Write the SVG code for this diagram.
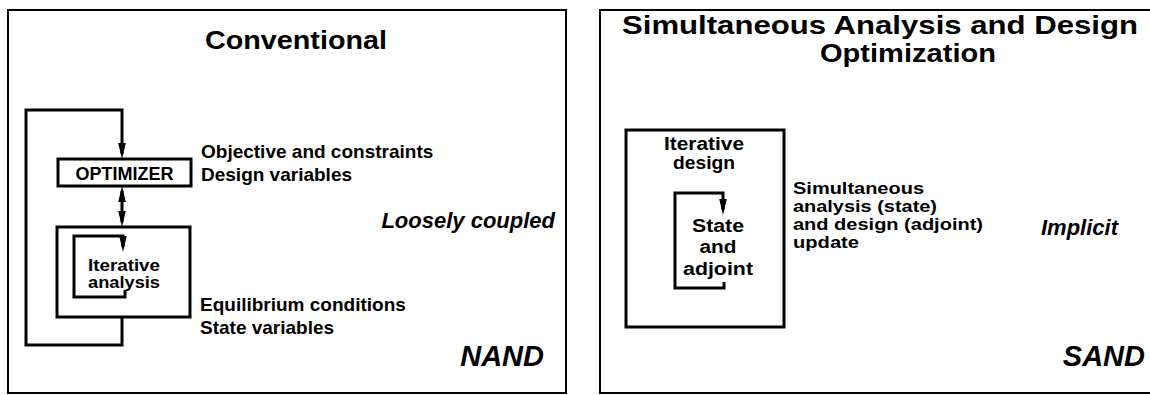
<svg xmlns="http://www.w3.org/2000/svg" width="1150" height="395" viewBox="0 0 1150 395">
<style>
.b{fill:none;stroke:#000;stroke-width:3}
.p{fill:none;stroke:#000;stroke-width:2}
text{font-family:"Liberation Sans",Arial,Helvetica,sans-serif;font-weight:bold;fill:#000}
.t{font-size:26px;text-anchor:middle}
.t2{font-size:25px;text-anchor:middle}
.l{font-size:19px}
.s{font-size:17px}
.n{font-size:18px}
.m{text-anchor:middle}
.e{text-anchor:end}
.it{font-style:italic}
.i22{font-size:22px}
.i29{font-size:29px}
</style>
<defs>
<marker id="ah" markerUnits="userSpaceOnUse" markerWidth="16" markerHeight="10" viewBox="0 0 16 10" refX="11" refY="5" orient="auto-start-reverse">
<path d="M0,1.2 L16,5 L0,8.8 z" fill="#000"/>
</marker>
</defs>
<rect width="1150" height="395" fill="#fff"/>

<g id="panel-conventional">
<rect class="p" x="8" y="10" width="558" height="383"/>
<text class="t" x="296" y="49" textLength="182" lengthAdjust="spacingAndGlyphs">Conventional</text>
<text class="l" x="201" y="158">Objective and constraints</text>
<text class="l" x="201" y="181">Design variables</text>
<text class="it e i22" x="555" y="228">Loosely coupled</text>
<text class="l" x="200" y="311">Equilibrium conditions</text>
<text class="l" x="200" y="334">State variables</text>
<text class="it e i29" x="544" y="366">NAND</text>
</g>

<g id="optimizer">
<rect class="b" x="58" y="159" width="133" height="27"/>
<text class="n m" x="124.5" y="180">OPTIMIZER</text>
</g>

<g id="analysis">
<rect class="b" x="57" y="227" width="133" height="90"/>
<text class="s m" x="124" y="271" textLength="72" lengthAdjust="spacingAndGlyphs">Iterative</text>
<text class="s m" x="124" y="288" textLength="72" lengthAdjust="spacingAndGlyphs">analysis</text>
</g>

<g id="panel-sand">
<rect class="p" x="600" y="10" width="560" height="383"/>
<text class="t2" x="880" y="34" textLength="516" lengthAdjust="spacingAndGlyphs">Simultaneous Analysis and Design</text>
<text class="t2" x="908" y="62" textLength="176" lengthAdjust="spacingAndGlyphs">Optimization</text>
<text class="s" x="793" y="194" textLength="131" lengthAdjust="spacingAndGlyphs">Simultaneous</text>
<text class="s" x="793" y="212" textLength="144" lengthAdjust="spacingAndGlyphs">analysis (state)</text>
<text class="s" x="793" y="230" textLength="190" lengthAdjust="spacingAndGlyphs">and design (adjoint)</text>
<text class="s" x="793" y="248" textLength="66" lengthAdjust="spacingAndGlyphs">update</text>
<text class="it e i22" x="1118" y="235">Implicit</text>
<text class="it e i29" x="1145" y="366">SAND</text>
</g>

<g id="iterative-design">
<rect class="b" x="626" y="130" width="158" height="197"/>
<text class="n m" x="704" y="150" textLength="80" lengthAdjust="spacingAndGlyphs">Iterative</text>
<text class="n m" x="704" y="169" textLength="62" lengthAdjust="spacingAndGlyphs">design</text>
</g>

<g id="state-adjoint">
<text class="n m" x="718" y="232" textLength="52" lengthAdjust="spacingAndGlyphs">State</text>
<text class="n m" x="718" y="253" textLength="37" lengthAdjust="spacingAndGlyphs">and</text>
<text class="n m" x="718" y="275" textLength="70" lengthAdjust="spacingAndGlyphs">adjoint</text>
</g>

<g id="connectors">
<path class="b" d="M122,317 V345 H26 V110 H122 V154" marker-end="url(#ah)"/>
<path class="b" d="M122,191 V222" marker-start="url(#ah)" marker-end="url(#ah)"/>
<path class="b" d="M125,290 V297 H74 V236 H123 V247" marker-end="url(#ah)"/>
<path class="b" d="M724,282 V288 H675 V193 H723 V210" marker-end="url(#ah)"/>
</g>
</svg>
